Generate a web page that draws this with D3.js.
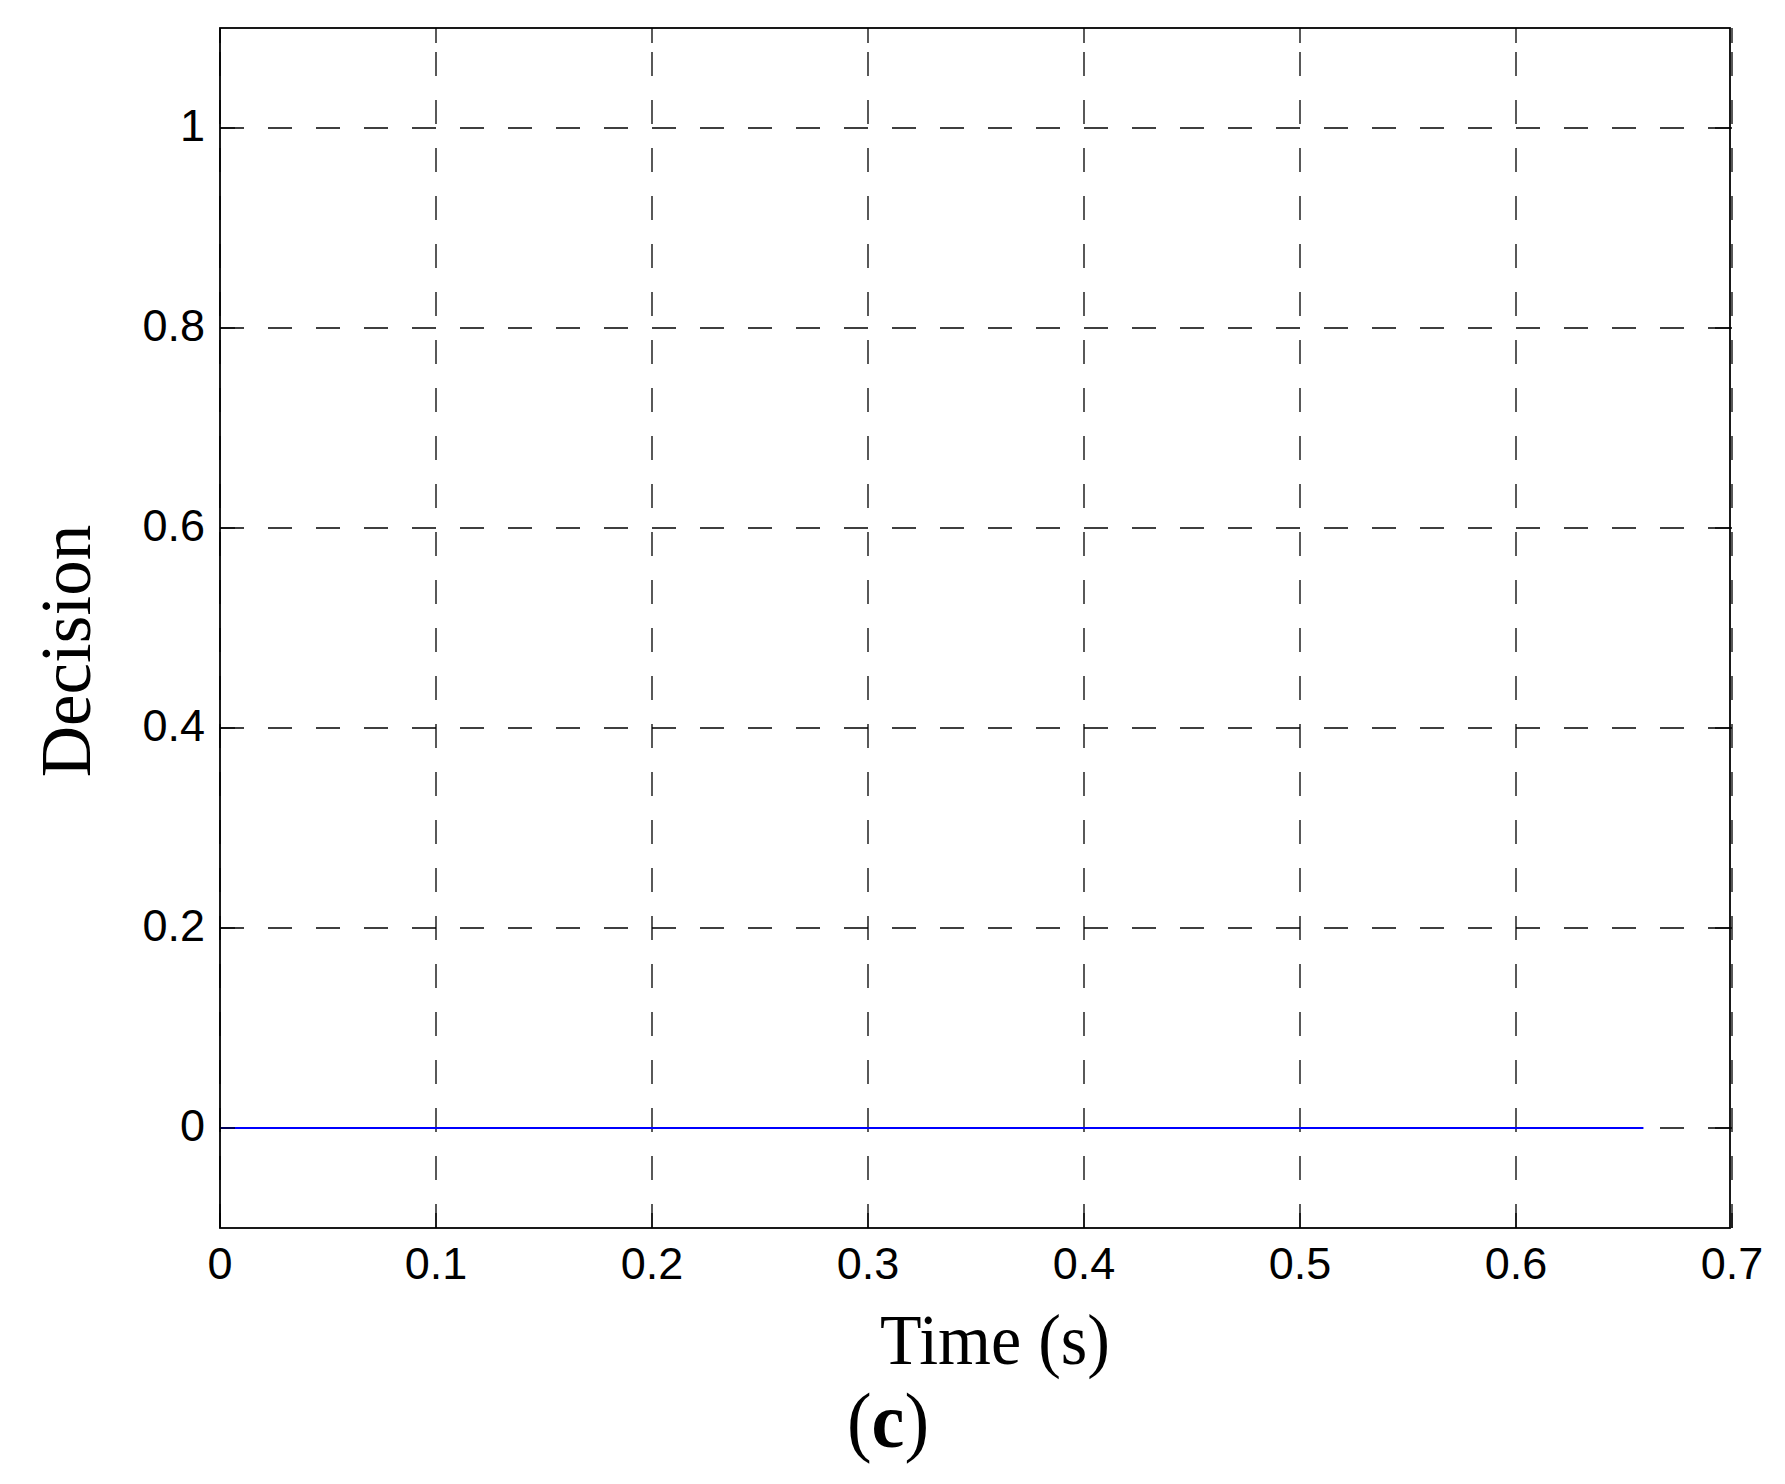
<!DOCTYPE html>
<html lang="en">
<head>
<meta charset="utf-8">
<title>Decision</title>
<script src="https://d3js.org/d3.v7.min.js"></script>
<style>
  body { margin: 0; background: #fff; }
  .tick-label { font-family: "Liberation Sans", Arial, sans-serif; font-size: 45px; fill: #000; }
  .axis-title { font-family: "Liberation Serif", "Times New Roman", serif; fill: #000; }
  .grid { stroke: #000; stroke-width: 1.3px; stroke-dasharray: 24,24; fill: none; }
</style>
</head>
<body>
<svg width="1785" height="1484"></svg>
<script>
// ---- data ----
var xTicks = [0, 0.1, 0.2, 0.3, 0.4, 0.5, 0.6, 0.7];
var yTicks = [0, 0.2, 0.4, 0.6, 0.8, 1];
var xTickLabels = ['0', '0.1', '0.2', '0.3', '0.4', '0.5', '0.6', '0.7'];
var yTickLabels = ['0', '0.2', '0.4', '0.6', '0.8', '1'];
var times = [0, 0.659];
var decision = [0, 0];

var svg = d3.select('svg');

// plot box (window.top is reserved, so use other names)
var pLeft = 220, pRight = 1732, pTop = 28, pBottom = 1228, boxRight = 1730;

var x = d3.scaleLinear().domain([0, 0.7]).range([pLeft, pRight]);
var y = d3.scaleLinear().domain([-0.1, 1.1]).range([pBottom, pTop]);

// background
svg.append('rect').attr('width', 1785).attr('height', 1484).attr('fill', '#fff');

var g = svg.append('g');

// vertical grid lines, dashes start from the bottom
g.selectAll('.vgrid')
  .data(xTicks)
  .enter().append('line')
  .attr('class', 'grid')
  .attr('x1', d => x(d)).attr('x2', d => x(d))
  .attr('y1', pBottom).attr('y2', pTop);

// horizontal grid lines, dashes start from the left
g.selectAll('.hgrid')
  .data(yTicks)
  .enter().append('line')
  .attr('class', 'grid')
  .attr('x1', pLeft).attr('x2', pRight)
  .attr('y1', d => y(d)).attr('y2', d => y(d));

// data line
var line = d3.line().x(d => x(d[0])).y(d => y(d[1]));
g.append('path')
  .datum(d3.zip(times, decision))
  .attr('d', line)
  .attr('fill', 'none')
  .attr('stroke', '#0000ff')
  .attr('stroke-width', 1.8);

// axes box
g.append('rect')
  .attr('x', pLeft).attr('y', pTop)
  .attr('width', boxRight - pLeft).attr('height', pBottom - pTop)
  .attr('fill', 'none').attr('stroke', '#000').attr('stroke-width', 1.8);

// inward ticks
var tl = 15;
g.selectAll('.xt-b').data(xTicks).enter().append('line')
  .attr('x1', d => x(d)).attr('x2', d => x(d))
  .attr('y1', pBottom).attr('y2', pBottom - tl)
  .attr('stroke', '#000').attr('stroke-width', 1.3);
g.selectAll('.xt-t').data(xTicks).enter().append('line')
  .attr('x1', d => x(d)).attr('x2', d => x(d))
  .attr('y1', pTop).attr('y2', pTop + tl)
  .attr('stroke', '#000').attr('stroke-width', 1.3);
g.selectAll('.yt-l').data(yTicks).enter().append('line')
  .attr('x1', pLeft).attr('x2', pLeft + tl)
  .attr('y1', d => y(d)).attr('y2', d => y(d))
  .attr('stroke', '#000').attr('stroke-width', 1.3);
g.selectAll('.yt-r').data(yTicks).enter().append('line')
  .attr('x1', boxRight).attr('x2', boxRight - tl)
  .attr('y1', d => y(d)).attr('y2', d => y(d))
  .attr('stroke', '#000').attr('stroke-width', 1.3);

// tick labels
g.selectAll('.xl').data(xTicks).enter().append('text')
  .attr('class', 'tick-label')
  .attr('x', d => x(d)).attr('y', 1279)
  .attr('text-anchor', 'middle')
  .text((d, i) => xTickLabels[i]);

g.selectAll('.yl').data(yTicks).enter().append('text')
  .attr('class', 'tick-label')
  .attr('x', 205).attr('y', d => y(d) + 13)
  .attr('text-anchor', 'end')
  .text((d, i) => yTickLabels[i]);

// axis titles
svg.append('text')
  .attr('class', 'axis-title')
  .attr('transform', 'translate(995,1364) scale(1,1.05)')
  .attr('text-anchor', 'middle')
  .attr('font-size', 68)
  .text('Time (s)');

svg.append('text')
  .attr('class', 'axis-title')
  .attr('transform', 'translate(90,651) rotate(-90)')
  .attr('text-anchor', 'middle')
  .attr('font-size', 71)
  .text('Decision');

var cap = svg.append('text')
  .attr('class', 'axis-title')
  .attr('transform', 'translate(888,1447) scale(1,1.07)')
  .attr('text-anchor', 'middle')
  .attr('font-size', 74);
cap.append('tspan').text('(');
cap.append('tspan').attr('font-weight', 'bold').text('c');
cap.append('tspan').text(')');
</script>
</body>
</html>
